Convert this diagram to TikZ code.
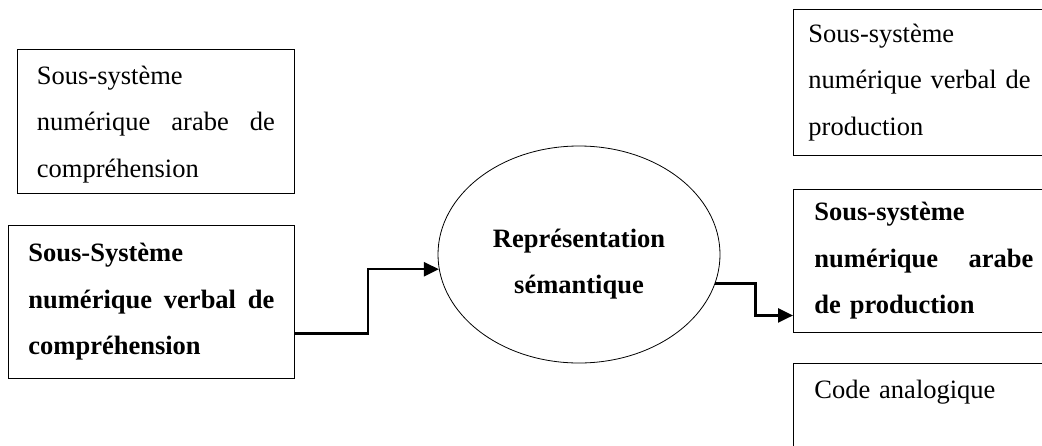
\documentclass[tikz,border=0pt]{standalone}
\usepackage{fontspec}
\setmainfont{Liberation Serif}
\usetikzlibrary{shapes.geometric,arrows.meta}

\newcommand{\jline}[2]{\leavevmode\hbox to #1{#2}}

\begin{document}
\begin{tikzpicture}[x=1pt,y=-1pt,
    txt node/.style={draw,line width=0.9pt,rectangle,anchor=north west,inner sep=0pt,align=left,font=\fontsize{26.5}{46.5}\selectfont},
    bold node/.style={txt node,font=\fontsize{26.5}{46.5}\selectfont\bfseries},
    flow/.style={-{Triangle[length=15pt,width=14pt]},line width=2.5pt}]
                \useasboundingbox (0,0) rectangle (1042,445);
                \clip (0,0) rectangle (1042,445);

                \node[txt node,minimum width=277pt,minimum height=144pt,text width=238pt] (arabC) at (17,49) {\rule{0pt}{24pt}Sous-système\\\jline{238pt}{numérique\hfill arabe\hfill de}\\compréhension};
                \node[bold node,minimum width=286pt,minimum height=153pt,text width=246pt] (verbC) at (8,225) {Sous-Système\\\jline{246pt}{numérique\hfill verbal\hfill de}\\compréhension};
                \node[draw,line width=0.8pt,ellipse,minimum width=282pt,minimum height=217pt,inner sep=0pt,align=center,font=\fontsize{26.5}{46.5}\selectfont\bfseries] (sem) at (579,254.5) {\rule{0pt}{38pt}Représentation\\sémantique};
                \node[txt node,minimum width=262pt,minimum height=146pt,text width=232pt] (verbP) at (793,9) {Sous-système\\numérique verbal de\\production};
                \node[bold node,minimum width=262pt,minimum height=143pt,text width=220pt] (arabP) at (793,189) {Sous-système\\\jline{219pt}{numérique\hfill arabe}\\de production};
                \node[txt node,minimum width=262pt,text width=220pt,inner xsep=21pt,text height=35pt,text depth=60pt] (analog) at (793,363) {Code analogique};

                \draw[flow] ([yshift=-31.5pt]verbC.east) -- ++(73,0) |- (sem.186);
                \draw[flow] (sem.-12) -- ++(40,0) |- ([yshift=-54.5pt]arabP.west);
            \end{tikzpicture}
\end{document}
